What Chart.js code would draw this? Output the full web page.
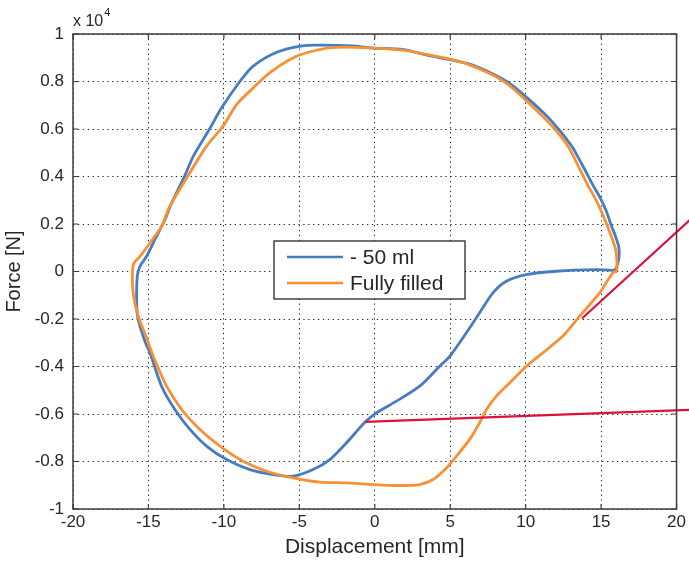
<!DOCTYPE html>
<html>
<head>
<meta charset="utf-8">
<script src="https://cdn.jsdelivr.net/npm/chart.js@4.4.1/dist/chart.umd.min.js"></script>
<style>
html, body { margin: 0; padding: 0; background: #fff; }
</style>
</head>
<body>
<canvas id="myChart" width="689" height="562"></canvas>
<script>
// values are in units of 10^4 N
var seriesLabels = ['- 50 ml', 'Fully filled'];

var blueX = [16.0, 16.18, 16.18, 15.95, 15.65, 15.35, 15.0, 14.45, 13.8, 13.05, 12.15, 11.3, 10.1, 9.05, 7.9, 6.35, 4.9, 3.4, 1.85, -0.33, -1.5, -3.8, -5.0, -6.5, -8.08, -8.94, -10.15, -10.93, -12.03, -12.58, -13.46, -13.9, -14.57, -15.12, -15.56, -15.74, -15.78, -15.68, -15.2, -14.9, -14.13, -13.25, -12.25, -11.15, -9.82, -8.28, -6.74, -5.41, -4.09, -2.98, -1.87, -0.62, 0.11, 1.44, 2.98, 4.3, 4.97, 6.07, 6.95, 7.83, 8.72, 10.05, 12.03, 14.68, 15.78, 16.0];
var blueY = [0.01, 0.058, 0.10, 0.149, 0.198, 0.254, 0.303, 0.365, 0.443, 0.528, 0.602, 0.661, 0.731, 0.787, 0.829, 0.872, 0.893, 0.912, 0.935, 0.942, 0.95, 0.953, 0.948, 0.923, 0.864, 0.80, 0.689, 0.602, 0.485, 0.405, 0.289, 0.219, 0.135, 0.064, 0.022, -0.02, -0.132, -0.202, -0.30, -0.342, -0.483, -0.581, -0.665, -0.735, -0.792, -0.834, -0.855, -0.862, -0.834, -0.792, -0.721, -0.633, -0.595, -0.546, -0.483, -0.399, -0.357, -0.258, -0.174, -0.09, -0.041, -0.013, 0.001, 0.008, 0.005, 0.01];

var orangeX = [16.05, 16.05, 15.96, 15.67, 15.38, 15.01, 14.65, 14.1, 13.5, 12.8, 11.9, 11.0, 9.85, 8.85, 7.75, 6.2, 4.85, 3.4, 1.85, -0.8, -2.98, -4.52, -5.63, -6.95, -8.06, -9.16, -10.05, -11.15, -12.36, -13.58, -14.13, -14.9, -15.56, -16.0, -16.05, -15.9, -15.6, -15.12, -14.68, -13.8, -12.8, -11.59, -10.26, -8.72, -7.17, -5.41, -3.64, -1.87, -0.11, 1.44, 2.98, 3.86, 4.75, 5.41, 6.29, 6.95, 7.4, 8.06, 8.94, 10.05, 11.15, 12.47, 13.58, 14.9, 15.78, 16.05];
var orangeY = [0.0, 0.043, 0.093, 0.149, 0.198, 0.254, 0.303, 0.365, 0.443, 0.528, 0.602, 0.661, 0.731, 0.787, 0.829, 0.872, 0.896, 0.914, 0.932, 0.943, 0.942, 0.921, 0.893, 0.837, 0.773, 0.703, 0.612, 0.528, 0.405, 0.275, 0.19, 0.12, 0.064, 0.03, -0.062, -0.132, -0.202, -0.28, -0.357, -0.483, -0.581, -0.665, -0.735, -0.799, -0.841, -0.869, -0.887, -0.89, -0.897, -0.901, -0.897, -0.876, -0.827, -0.778, -0.707, -0.637, -0.581, -0.525, -0.469, -0.399, -0.342, -0.272, -0.188, -0.09, -0.005, 0.0];

// red marker lines (start, end)
var redLine1X = [13.73, 21.0];
var redLine1Y = [-0.198, 0.224];
var redLine2X = [-0.62, 21.0];
var redLine2Y = [-0.633, -0.582];

var xTicks = [-20, -15, -10, -5, 0, 5, 10, 15, 20];
var yTicks = [-1, -0.8, -0.6, -0.4, -0.2, 0, 0.2, 0.4, 0.6, 0.8, 1];

var font = '"Liberation Sans", Arial, sans-serif';
var textColor = '#262626';

function toPoints(xs, ys) {
	var pts = [];
	for (var i = 0; i < xs.length; i++) {
		pts.push({x: xs[i], y: ys[i]});
	}
	return pts;
}

function redDataset(xs, ys) {
	return {
		data: toPoints(xs, ys),
		borderColor: 'rgb(220, 18, 58)',
		borderWidth: 2.2,
		pointRadius: 0,
		clip: false,
		order: 0
	};
}

var framePlugin = {
	id: 'frame',
	afterDraw: function(chart) {
		var ctx = chart.ctx;
		var a = chart.chartArea;
		var xs = chart.scales.x, ys = chart.scales.y;
		ctx.save();
		ctx.strokeStyle = '#3c3c3c';
		ctx.lineWidth = 1.5;
		ctx.strokeRect(a.left, a.top, a.right - a.left, a.bottom - a.top);
		// inward tick marks
		ctx.lineWidth = 1.2;
		ctx.beginPath();
		xTicks.forEach(function(v) {
			var px = xs.getPixelForValue(v);
			ctx.moveTo(px, a.bottom); ctx.lineTo(px, a.bottom - 5);
			ctx.moveTo(px, a.top); ctx.lineTo(px, a.top + 5);
		});
		yTicks.forEach(function(v) {
			var py = ys.getPixelForValue(v);
			ctx.moveTo(a.left, py); ctx.lineTo(a.left + 5, py);
			ctx.moveTo(a.right, py); ctx.lineTo(a.right - 5, py);
		});
		ctx.stroke();

		// exponent label
		ctx.fillStyle = textColor;
		ctx.textBaseline = 'alphabetic';
		ctx.textAlign = 'left';
		ctx.font = '16px ' + font;
		ctx.fillText('x 10', a.left, a.top - 8);
		var w = ctx.measureText('x 10').width;
		ctx.font = '11px ' + font;
		ctx.fillText('4', a.left + w + 1, a.top - 18);

		// legend box
		var bx = 274, by = 241, bw = 191, bh = 58;
		ctx.fillStyle = '#fff';
		ctx.fillRect(bx, by, bw, bh);
		ctx.strokeStyle = '#262626';
		ctx.lineWidth = 1.3;
		ctx.strokeRect(bx, by, bw, bh);
		ctx.font = '21px ' + font;
		ctx.textBaseline = 'middle';
		for (var i = 0; i < 2; i++) {
			var ds = chart.data.datasets[i];
			var ly = by + 16 + i * 26;
			ctx.strokeStyle = ds.borderColor;
			ctx.lineWidth = 2.5;
			ctx.beginPath();
			ctx.moveTo(bx + 13, ly);
			ctx.lineTo(bx + 69, ly);
			ctx.stroke();
			ctx.fillStyle = textColor;
			ctx.fillText(ds.label, bx + 76, ly + 1);
		}
		ctx.restore();
	}
};

var ctx = document.getElementById('myChart').getContext('2d');
var chart = new Chart(ctx, {
	type: 'line',
	data: {
		datasets: [
			{
				label: seriesLabels[0],
				data: toPoints(blueX, blueY),
				borderColor: 'rgb(70, 124, 192)',
				borderWidth: 2.8,
				pointRadius: 0,
				tension: 0.25,
				order: 2
			},
			{
				label: seriesLabels[1],
				data: toPoints(orangeX, orangeY),
				borderColor: 'rgb(248, 144, 52)',
				borderWidth: 2.8,
				pointRadius: 0,
				tension: 0.25,
				order: 1
			},
			redDataset(redLine1X, redLine1Y),
			redDataset(redLine2X, redLine2Y)
		]
	},
	options: {
		responsive: false,
		animation: false,
		layout: { padding: { left: 0, right: 12, top: 34, bottom: 0 } },
		plugins: {
			legend: { display: false },
			tooltip: { enabled: false }
		},
		scales: {
			x: {
				type: 'linear',
				min: -20,
				max: 20,
				afterFit: function(scale) { scale.height = 53; },
				afterBuildTicks: function(scale) {
					scale.ticks = xTicks.map(function(v) { return {value: v}; });
				},
				grid: { color: '#222', lineWidth: 1, drawTicks: false },
				border: { display: false, dash: [1.3, 3.6] },
				ticks: {
					padding: 3,
					color: textColor,
					font: { family: font, size: 17 },
					maxRotation: 0,
					callback: function(v) { return String(v); }
				},
				title: {
					display: true,
					text: 'Displacement [mm]',
					color: textColor,
					font: { family: font, size: 21 },
					padding: { top: 0, bottom: 2 }
				}
			},
			y: {
				type: 'linear',
				min: -1,
				max: 1,
				afterFit: function(scale) { scale.width = 73; },
				afterBuildTicks: function(scale) {
					scale.ticks = yTicks.map(function(v) { return {value: v}; });
				},
				grid: { color: '#222', lineWidth: 1, drawTicks: false },
				border: { display: false, dash: [1.3, 3.6] },
				ticks: {
					padding: 9,
					color: textColor,
					font: { family: font, size: 17 },
					callback: function(v) { return String(Number(v.toFixed(1))); }
				},
				title: {
					display: true,
					text: 'Force [N]',
					color: textColor,
					font: { family: font, size: 20 },
					padding: { top: 2, bottom: 0 }
				}
			}
		}
	},
	plugins: [framePlugin]
});
</script>
</body>
</html>
